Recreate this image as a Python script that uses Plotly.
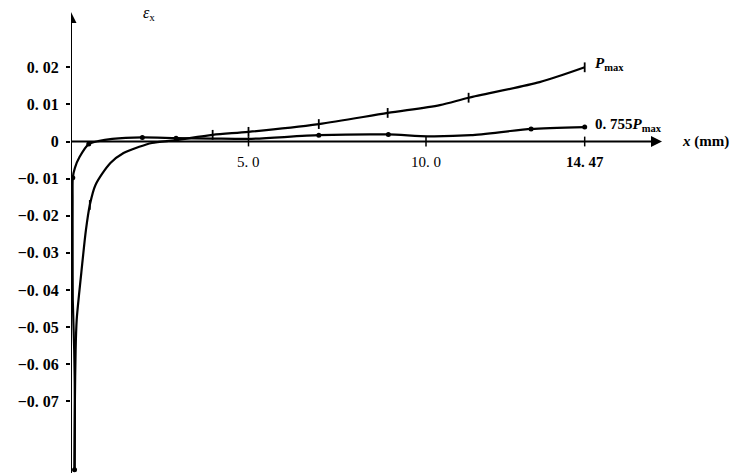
import plotly.graph_objects as go

# Strain along the specimen, x in mm, strain εx
# P = Pmax curve
pmax_x = [0.10, 0.11, 0.13, 0.16, 0.24, 0.29, 0.42, 0.53, 0.69, 1.11, 1.48, 1.90,
          2.28, 2.96, 3.99, 5.00, 6.98, 8.92, 10.39, 11.20, 13.20, 14.47]
pmax_y = [-0.0885, -0.0697, -0.0562, -0.0481, -0.0400, -0.0354, -0.0239, -0.0171,
          -0.0117, -0.0058, -0.0031, -0.0015, -0.0004, 0.0004, 0.0018, 0.0026,
          0.0047, 0.0077, 0.0098, 0.0118, 0.0160, 0.0200]
pmax_pts_x = [0.11, 0.53, 3.99, 5.00, 6.98, 8.92, 11.20, 14.47]
pmax_pts_y = [-0.0697, -0.0171, 0.0018, 0.0026, 0.0047, 0.0077, 0.0118, 0.0200]

# P = 0.755 Pmax curve
p755_x = [0.10, 0.11, 0.09, 0.05, 0.045, 0.045, 0.05, 0.11, 0.24, 0.50, 0.77, 1.16,
          2.01, 2.96, 3.99, 5.00, 6.98, 8.94, 10.04, 11.27, 12.96, 14.47]
p755_y = [-0.0885, -0.0697, -0.0562, -0.0427, -0.0292, -0.0158, -0.0098, -0.0071,
          -0.0042, -0.0007, 0.0001, 0.0007, 0.0011, 0.0009, 0.0008, 0.0007, 0.0017,
          0.0019, 0.0014, 0.0017, 0.0034, 0.0039]
p755_pts_x = [0.10, 0.05, 0.50, 2.01, 2.96, 6.98, 8.94, 12.96, 14.47]
p755_pts_y = [-0.0885, -0.0098, -0.0007, 0.0011, 0.0009, 0.0017, 0.0019, 0.0034, 0.0039]

y_ticks = [0.02, 0.01, 0.0, -0.01, -0.02, -0.03, -0.04, -0.05, -0.06, -0.07]
y_tick_text = ["0. 02", "0. 01", "0", "−0. 01", "−0. 02", "−0. 03", "−0. 04",
               "−0. 05", "−0. 06", "−0. 07"]
x_ticks = [5.0, 10.0, 14.47]
x_tick_text = ["5. 0", "10. 0", "14. 47"]

W, H = 732, 476
L = 71
px_per_mm = 35.5
px_per_unit = 3710.0
y_zero_px = 141.5
x_max = (W - L) / px_per_mm
y_top = y_zero_px / px_per_unit
y_bot = -(H - y_zero_px) / px_per_unit

serif = "Liberation Serif"
line_style = dict(color="black", width=2.2)

# axis extents (data units)
y_axis_low = -(473 - y_zero_px) / px_per_unit
y_axis_high = (y_zero_px - 12) / px_per_unit
x_axis_high = (662 - L) / px_per_mm

fig = go.Figure()
fig.add_trace(go.Scatter(x=pmax_x, y=pmax_y, mode="lines", line=dict(shape="spline", smoothing=0.8, **line_style)))
fig.add_trace(go.Scatter(x=p755_x, y=p755_y, mode="lines", line=dict(shape="spline", smoothing=0.6, **line_style)))
fig.add_trace(go.Scatter(x=pmax_pts_x, y=pmax_pts_y, mode="markers",
                         marker=dict(symbol="line-ns", size=7, line=dict(color="black", width=1.8))))
fig.add_trace(go.Scatter(x=p755_pts_x, y=p755_pts_y, mode="markers",
                         marker=dict(symbol="circle", size=5, color="black")))
# small tick marks on the x axis
fig.add_trace(go.Scatter(x=x_ticks, y=[0] * len(x_ticks), mode="markers",
                         marker=dict(symbol="line-ns", size=7, line=dict(color="black", width=1.5))))

# axes drawn as lines ending in arrowheads
fig.add_shape(type="line", x0=0, x1=0, y0=y_axis_low, y1=y_axis_high - 0.002,
              line=dict(color="black", width=2))
fig.add_shape(type="line", x0=0, x1=x_axis_high - 0.3, y0=0, y1=0, line=dict(color="black", width=2))
fig.add_trace(go.Scatter(x=[0], y=[y_axis_high], mode="markers",
                         marker=dict(symbol="arrow-up", size=11, color="black")))
fig.add_trace(go.Scatter(x=[x_axis_high], y=[0], mode="markers",
                         marker=dict(symbol="arrow-right", size=11, color="black")))

for xv, t in zip(x_ticks, x_tick_text):
    fig.add_annotation(x=xv, y=0, text=t, showarrow=False, yshift=-20,
                       font=dict(family=serif, size=15, color="black", weight="bold" if xv > 14 else "normal"))

fig.add_annotation(x=14.47, y=0.0200, text="<i>P</i><sub>max</sub>", showarrow=False, xanchor="left",
                   xshift=8, yshift=3, font=dict(family=serif, size=15, color="black", weight="bold"))
fig.add_annotation(x=14.47, y=0.0039, text="0. 755<i>P</i><sub>max</sub>", showarrow=False, xanchor="left",
                   xshift=8, yshift=2, font=dict(family=serif, size=15, color="black", weight="bold"))
fig.add_annotation(x=674 / W, y=1 - 141 / H, xref="paper", yref="paper", text="<i>x</i> (mm)",
                   showarrow=False, xanchor="left", yanchor="middle",
                   font=dict(family=serif, size=15, color="black", weight="bold"))
fig.add_annotation(x=78 / W, y=1 - 2 / H, xref="paper", yref="paper", text="<i>ε</i><sub>x</sub>",
                   showarrow=False, xanchor="left", yanchor="top",
                   font=dict(family=serif, size=16, color="black"))

fig.update_layout(
    width=W, height=H, margin=dict(l=L, r=0, t=0, b=0),
    paper_bgcolor="white", plot_bgcolor="white", showlegend=False,
    xaxis=dict(range=[0, x_max], showgrid=False, zeroline=False, showline=False,
               showticklabels=False, ticks=""),
    yaxis=dict(range=[y_bot, y_top], showgrid=False, zeroline=False, showline=False,
               tickvals=y_ticks, ticktext=y_tick_text, ticks="outside", ticklen=4,
               tickwidth=1.5, tickcolor="black", ticklabelstandoff=4,
               tickfont=dict(family=serif, size=16, color="black", weight="bold")),
)

fig.write_html("out.html")
